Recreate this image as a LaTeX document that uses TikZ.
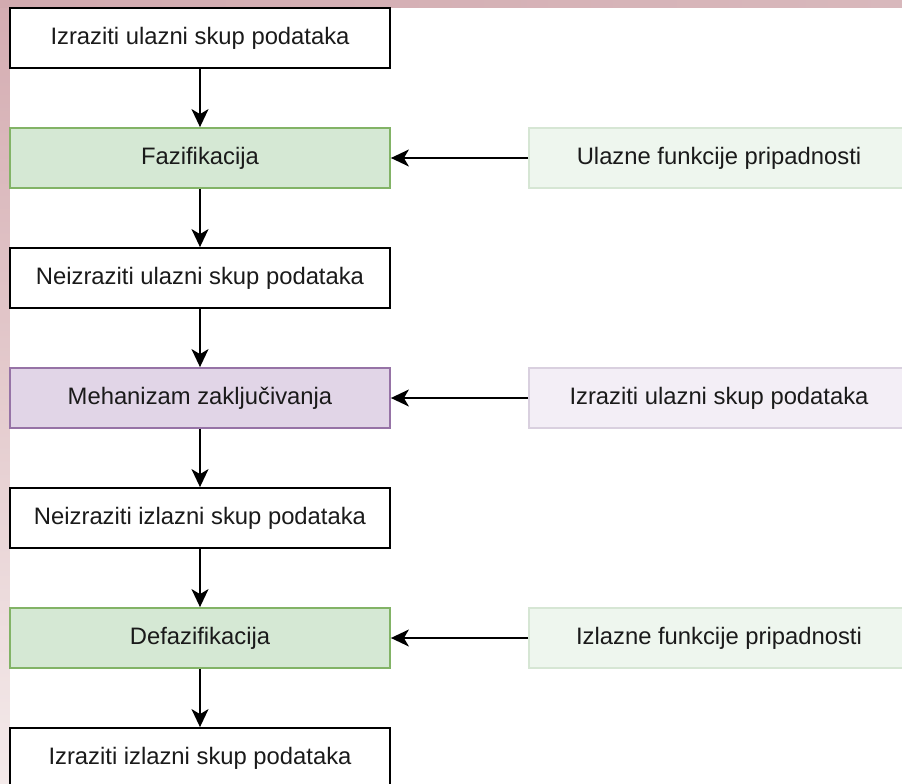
\documentclass[tikz,border=0pt]{standalone}
\usepackage{fontspec}
\setmainfont{Liberation Sans}
\usetikzlibrary{arrows.meta}
\definecolor{gfill}{HTML}{D5E8D4}
\definecolor{gdraw}{HTML}{82B366}
\definecolor{pfill}{HTML}{E1D5E7}
\definecolor{pdraw}{HTML}{9673A6}
\definecolor{glfill}{HTML}{EEF6EE}
\definecolor{gldraw}{HTML}{D6E6D4}
\definecolor{plfill}{HTML}{F3EEF6}
\definecolor{pldraw}{HTML}{D9D0DF}
\definecolor{txt}{HTML}{1A1A1A}
\tikzset{
  box/.style={rectangle, minimum width=380pt, minimum height=60pt, inner sep=0pt,
    line width=1.8pt, font=\fontsize{23.8}{28}\selectfont, text=txt},
  plainbox/.style={box, draw=black, fill=white},
  greenbox/.style={box, draw=gdraw, fill=gfill},
  purplebox/.style={box, draw=pdraw, fill=pfill},
  lgreenbox/.style={box, draw=gldraw, fill=glfill},
  lpurplebox/.style={box, draw=pldraw, fill=plfill},
  conn/.style={line width=1.8pt, draw=black, -{Stealth[length=18pt,width=17pt,inset=5pt]}}
}
\begin{document}
\begin{tikzpicture}[x=1pt,y=-1pt]
\useasboundingbox (0,0) rectangle (902,784);
\clip (0,0) rectangle (902,784);
\fill[white] (0,0) rectangle (902,784);
\shade[top color={rgb,255:red,212;green,172;blue,177}, bottom color={rgb,255:red,244;green,234;blue,234}] (0,0) rectangle (9.5,784);
\shade[left color={rgb,255:red,210;green,170;blue,175}, right color={rgb,255:red,216;green,184;blue,188}] (0,0) rectangle (902,8);

\node[plainbox]  (n1) at (200,38)  {Izraziti ulazni skup podataka};
\node[greenbox]  (n2) at (200,158) {Fazifikacija};
\node[plainbox]  (n3) at (200,278) {Neizraziti ulazni skup podataka};
\node[purplebox] (n4) at (200,398) {Mehanizam zaključivanja};
\node[plainbox]  (n5) at (200,518) {Neizraziti izlazni skup podataka};
\node[greenbox]  (n6) at (200,638) {Defazifikacija};
\node[plainbox]  (n7) at (200,758) {Izraziti izlazni skup podataka};

\node[lgreenbox]  (r1) at (719,158) {Ulazne funkcije pripadnosti};
\node[lpurplebox] (r2) at (719,398) {Izraziti ulazni skup podataka};
\node[lgreenbox]  (r3) at (719,638) {Izlazne funkcije pripadnosti};

\draw[conn] (n1) -- (n2);
\draw[conn] (n2) -- (n3);
\draw[conn] (n3) -- (n4);
\draw[conn] (n4) -- (n5);
\draw[conn] (n5) -- (n6);
\draw[conn] (n6) -- (n7);
\draw[conn] (r1) -- (n2);
\draw[conn] (r2) -- (n4);
\draw[conn] (r3) -- (n6);
\end{tikzpicture}
\end{document}
